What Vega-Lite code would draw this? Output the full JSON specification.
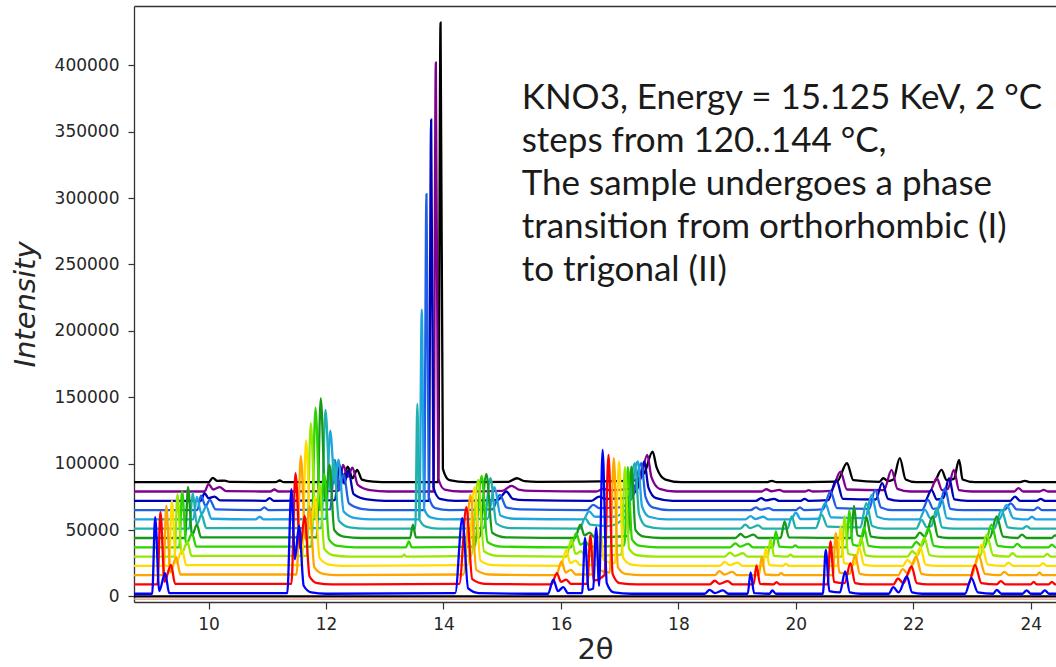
{
  "$schema": "https://vega.github.io/schema/vega-lite/v6.json",
  "width": 922,
  "height": 596,
  "autosize": "none",
  "padding": {"left": 134, "top": 6, "right": 0, "bottom": 65},
  "background": "#ffffff",
  "config": {
    "view": {"stroke": null},
    "font": "DejaVu Sans",
    "axis": {
      "grid": false,
      "labelFont": "DejaVu Sans",
      "labelFontSize": 17,
      "labelColor": "#262626",
      "tickColor": "#333333",
      "tickWidth": 1.2,
      "domainColor": "#333333",
      "domainWidth": 1.3,
      "titleFont": "DejaVu Sans",
      "titleFontSize": 29,
      "titleFontWeight": "normal",
      "titleColor": "#262626"
    }
  },
  "datasets": {
    "base0": [{"x": 8.7, "y": 0}, {"x": 24.5, "y": 0}],
    "base1": [{"x": 8.7, "y": -2000}, {"x": 24.5, "y": -2000}],
    "notes": [
      {"line": "KNO3, Energy = 15.125 KeV, 2 °C", "x": 15.332, "y": 375200},
      {"line": "steps from 120..144 °C,", "x": 15.332, "y": 343200},
      {"line": "The sample undergoes a phase", "x": 15.332, "y": 310860},
      {"line": "transition from orthorhombic (I)", "x": 15.332, "y": 278510},
      {"line": "to trigonal (II)", "x": 15.332, "y": 245790}
    ],
    "traces": [
      {"t":"144","x":8.7,"y":86000},{"t":"144","x":10.0,"y":86000},{"t":"144","x":10.07,"y":89300},{"t":"144","x":10.15,"y":87000},{"t":"144","x":10.27,"y":87200},{"t":"144","x":10.36,"y":86200},{"t":"144","x":11.14,"y":86000},{"t":"144","x":11.21,"y":87300},{"t":"144","x":11.28,"y":86000},{"t":"144","x":12.28,"y":86500},{"t":"144","x":12.37,"y":97800},{"t":"144","x":12.45,"y":89000},{"t":"144","x":12.53,"y":95300},{"t":"144","x":12.61,"y":88000},{"t":"144","x":12.8,"y":86500},{"t":"144","x":13.1,"y":86000},{"t":"144","x":13.91,"y":86000},{"t":"144","x":13.95,"y":432000},{"t":"144","x":13.99,"y":96000},{"t":"144","x":14.1,"y":87500},{"t":"144","x":14.4,"y":86000},{"t":"144","x":15.1,"y":86200},{"t":"144","x":15.25,"y":89000},{"t":"144","x":15.38,"y":86800},{"t":"144","x":15.6,"y":86200},{"t":"144","x":17.2,"y":87000},{"t":"144","x":17.42,"y":93000},{"t":"144","x":17.56,"y":109000},{"t":"144","x":17.63,"y":97000},{"t":"144","x":17.78,"y":88000},{"t":"144","x":18.05,"y":86000},{"t":"144","x":19.5,"y":86000},{"t":"144","x":19.59,"y":87000},{"t":"144","x":19.67,"y":86000},{"t":"144","x":20.7,"y":86500},{"t":"144","x":20.87,"y":100300},{"t":"144","x":20.98,"y":87500},{"t":"144","x":21.42,"y":86200},{"t":"144","x":21.49,"y":89000},{"t":"144","x":21.57,"y":86800},{"t":"144","x":21.66,"y":88000},{"t":"144","x":21.77,"y":104100},{"t":"144","x":21.87,"y":88000},{"t":"144","x":22.05,"y":86000},{"t":"144","x":22.35,"y":86000},{"t":"144","x":22.48,"y":95300},{"t":"144","x":22.57,"y":87500},{"t":"144","x":22.69,"y":88500},{"t":"144","x":22.78,"y":102800},{"t":"144","x":22.84,"y":88000},{"t":"144","x":23.05,"y":86000},{"t":"144","x":23.8,"y":86000},{"t":"144","x":23.9,"y":87000},{"t":"144","x":24.0,"y":86000},{"t":"144","x":24.5,"y":86000},

      {"t":"142","x":8.7,"y":79000},{"t":"142","x":9.93,"y":79000},{"t":"142","x":10.0,"y":84500},{"t":"142","x":10.08,"y":80500},{"t":"142","x":10.19,"y":82300},{"t":"142","x":10.3,"y":79300},{"t":"142","x":11.05,"y":79000},{"t":"142","x":11.12,"y":80500},{"t":"142","x":11.19,"y":79000},{"t":"142","x":12.21,"y":79500},{"t":"142","x":12.29,"y":99000},{"t":"142","x":12.37,"y":90000},{"t":"142","x":12.45,"y":97000},{"t":"142","x":12.54,"y":84000},{"t":"142","x":12.75,"y":80000},{"t":"142","x":13.05,"y":79000},{"t":"142","x":13.83,"y":79000},{"t":"142","x":13.87,"y":402000},{"t":"142","x":13.91,"y":89000},{"t":"142","x":14.02,"y":80500},{"t":"142","x":14.3,"y":79000},{"t":"142","x":15.0,"y":79500},{"t":"142","x":15.16,"y":83300},{"t":"142","x":15.28,"y":80500},{"t":"142","x":15.5,"y":79500},{"t":"142","x":16.6,"y":79000},{"t":"142","x":16.72,"y":81000},{"t":"142","x":16.85,"y":80000},{"t":"142","x":17.15,"y":81000},{"t":"142","x":17.35,"y":88000},{"t":"142","x":17.47,"y":106600},{"t":"142","x":17.54,"y":90000},{"t":"142","x":17.68,"y":81000},{"t":"142","x":17.95,"y":79000},{"t":"142","x":19.41,"y":79000},{"t":"142","x":19.5,"y":80700},{"t":"142","x":19.58,"y":79200},{"t":"142","x":19.72,"y":80300},{"t":"142","x":19.8,"y":79000},{"t":"142","x":20.16,"y":79000},{"t":"142","x":20.22,"y":80000},{"t":"142","x":20.28,"y":79000},{"t":"142","x":20.6,"y":79500},{"t":"142","x":20.76,"y":94000},{"t":"142","x":20.87,"y":80500},{"t":"142","x":21.5,"y":80000},{"t":"142","x":21.63,"y":95300},{"t":"142","x":21.73,"y":81000},{"t":"142","x":21.95,"y":79000},{"t":"142","x":22.28,"y":79000},{"t":"142","x":22.4,"y":89000},{"t":"142","x":22.49,"y":80000},{"t":"142","x":22.59,"y":81000},{"t":"142","x":22.69,"y":95300},{"t":"142","x":22.78,"y":80000},{"t":"142","x":23.0,"y":79000},{"t":"142","x":23.72,"y":79000},{"t":"142","x":23.79,"y":81600},{"t":"142","x":23.87,"y":79000},{"t":"142","x":24.15,"y":79000},{"t":"142","x":24.22,"y":80300},{"t":"142","x":24.29,"y":79000},{"t":"142","x":24.5,"y":79000},

      {"t":"140","x":8.7,"y":72000},{"t":"140","x":9.87,"y":72000},{"t":"140","x":9.93,"y":77800},{"t":"140","x":10.0,"y":74000},{"t":"140","x":10.1,"y":75200},{"t":"140","x":10.2,"y":72300},{"t":"140","x":10.97,"y":72000},{"t":"140","x":11.04,"y":74000},{"t":"140","x":11.11,"y":72000},{"t":"140","x":12.15,"y":72500},{"t":"140","x":12.23,"y":99000},{"t":"140","x":12.31,"y":85000},{"t":"140","x":12.38,"y":95000},{"t":"140","x":12.47,"y":77000},{"t":"140","x":12.7,"y":73000},{"t":"140","x":13.0,"y":72000},{"t":"140","x":13.75,"y":72000},{"t":"140","x":13.79,"y":359000},{"t":"140","x":13.83,"y":82000},{"t":"140","x":13.94,"y":73500},{"t":"140","x":14.2,"y":72000},{"t":"140","x":14.92,"y":72500},{"t":"140","x":15.07,"y":79000},{"t":"140","x":15.18,"y":73500},{"t":"140","x":15.4,"y":72500},{"t":"140","x":16.52,"y":72000},{"t":"140","x":16.65,"y":75200},{"t":"140","x":16.75,"y":73500},{"t":"140","x":17.1,"y":74000},{"t":"140","x":17.3,"y":81000},{"t":"140","x":17.42,"y":101600},{"t":"140","x":17.49,"y":82000},{"t":"140","x":17.62,"y":74000},{"t":"140","x":17.9,"y":72000},{"t":"140","x":19.32,"y":72000},{"t":"140","x":19.41,"y":74000},{"t":"140","x":19.49,"y":72300},{"t":"140","x":19.63,"y":73500},{"t":"140","x":19.71,"y":72000},{"t":"140","x":20.08,"y":72000},{"t":"140","x":20.15,"y":73500},{"t":"140","x":20.22,"y":72000},{"t":"140","x":20.55,"y":72500},{"t":"140","x":20.69,"y":87800},{"t":"140","x":20.8,"y":73500},{"t":"140","x":21.36,"y":73000},{"t":"140","x":21.47,"y":85300},{"t":"140","x":21.57,"y":73500},{"t":"140","x":21.77,"y":72000},{"t":"140","x":22.2,"y":72000},{"t":"140","x":22.31,"y":80300},{"t":"140","x":22.4,"y":73000},{"t":"140","x":22.51,"y":74000},{"t":"140","x":22.61,"y":89000},{"t":"140","x":22.7,"y":73000},{"t":"140","x":22.92,"y":72000},{"t":"140","x":23.65,"y":72000},{"t":"140","x":23.73,"y":75200},{"t":"140","x":23.82,"y":72000},{"t":"140","x":24.1,"y":72000},{"t":"140","x":24.17,"y":73500},{"t":"140","x":24.24,"y":72000},{"t":"140","x":24.5,"y":72000},

      {"t":"138","x":8.7,"y":65000},{"t":"138","x":9.81,"y":65000},{"t":"138","x":9.87,"y":75800},{"t":"138","x":9.95,"y":68000},{"t":"138","x":10.02,"y":72700},{"t":"138","x":10.12,"y":65500},{"t":"138","x":10.88,"y":65000},{"t":"138","x":10.95,"y":67000},{"t":"138","x":11.02,"y":65000},{"t":"138","x":12.07,"y":65500},{"t":"138","x":12.15,"y":102800},{"t":"138","x":12.23,"y":80000},{"t":"138","x":12.3,"y":92000},{"t":"138","x":12.39,"y":70000},{"t":"138","x":12.6,"y":66000},{"t":"138","x":12.9,"y":65000},{"t":"138","x":13.67,"y":65000},{"t":"138","x":13.71,"y":303000},{"t":"138","x":13.75,"y":75000},{"t":"138","x":13.86,"y":66500},{"t":"138","x":14.1,"y":65000},{"t":"138","x":14.83,"y":65500},{"t":"138","x":14.96,"y":76500},{"t":"138","x":15.07,"y":67000},{"t":"138","x":15.3,"y":65500},{"t":"138","x":16.44,"y":65000},{"t":"138","x":16.55,"y":69000},{"t":"138","x":16.65,"y":66500},{"t":"138","x":17.0,"y":67000},{"t":"138","x":17.22,"y":75000},{"t":"138","x":17.37,"y":100300},{"t":"138","x":17.44,"y":75000},{"t":"138","x":17.56,"y":67000},{"t":"138","x":17.85,"y":65000},{"t":"138","x":19.23,"y":65000},{"t":"138","x":19.32,"y":67000},{"t":"138","x":19.4,"y":65300},{"t":"138","x":19.54,"y":66500},{"t":"138","x":19.62,"y":65000},{"t":"138","x":20.0,"y":65000},{"t":"138","x":20.07,"y":67000},{"t":"138","x":20.14,"y":65000},{"t":"138","x":20.46,"y":65500},{"t":"138","x":20.59,"y":79000},{"t":"138","x":20.7,"y":66500},{"t":"138","x":21.25,"y":66000},{"t":"138","x":21.35,"y":80300},{"t":"138","x":21.45,"y":67000},{"t":"138","x":21.65,"y":65000},{"t":"138","x":22.15,"y":65000},{"t":"138","x":22.25,"y":72700},{"t":"138","x":22.34,"y":66000},{"t":"138","x":22.44,"y":67000},{"t":"138","x":22.54,"y":81600},{"t":"138","x":22.63,"y":66000},{"t":"138","x":22.85,"y":65000},{"t":"138","x":23.55,"y":65000},{"t":"138","x":23.66,"y":70000},{"t":"138","x":23.76,"y":65500},{"t":"138","x":24.05,"y":65000},{"t":"138","x":24.12,"y":67000},{"t":"138","x":24.19,"y":65000},{"t":"138","x":24.5,"y":65000},

      {"t":"136","x":8.7,"y":58000},{"t":"136","x":9.74,"y":58000},{"t":"136","x":9.8,"y":75000},{"t":"136","x":9.88,"y":62000},{"t":"136","x":9.96,"y":67700},{"t":"136","x":10.05,"y":58500},{"t":"136","x":10.8,"y":58000},{"t":"136","x":10.87,"y":60000},{"t":"136","x":10.94,"y":58000},{"t":"136","x":12.0,"y":58500},{"t":"136","x":12.07,"y":124900},{"t":"136","x":12.15,"y":85000},{"t":"136","x":12.21,"y":103000},{"t":"136","x":12.3,"y":64000},{"t":"136","x":12.5,"y":59000},{"t":"136","x":12.8,"y":58000},{"t":"136","x":13.59,"y":58000},{"t":"136","x":13.63,"y":216000},{"t":"136","x":13.67,"y":66000},{"t":"136","x":13.78,"y":59500},{"t":"136","x":14.0,"y":58000},{"t":"136","x":14.75,"y":58500},{"t":"136","x":14.87,"y":82300},{"t":"136","x":14.97,"y":61000},{"t":"136","x":15.2,"y":58500},{"t":"136","x":16.38,"y":58000},{"t":"136","x":16.48,"y":64000},{"t":"136","x":16.58,"y":60000},{"t":"136","x":16.9,"y":60000},{"t":"136","x":17.15,"y":68000},{"t":"136","x":17.31,"y":101600},{"t":"136","x":17.38,"y":68000},{"t":"136","x":17.5,"y":60000},{"t":"136","x":17.8,"y":58000},{"t":"136","x":19.14,"y":58000},{"t":"136","x":19.23,"y":60500},{"t":"136","x":19.31,"y":58300},{"t":"136","x":19.45,"y":60000},{"t":"136","x":19.53,"y":58000},{"t":"136","x":19.92,"y":58000},{"t":"136","x":20.0,"y":63000},{"t":"136","x":20.08,"y":58300},{"t":"136","x":20.38,"y":58500},{"t":"136","x":20.5,"y":70300},{"t":"136","x":20.6,"y":59500},{"t":"136","x":21.18,"y":59000},{"t":"136","x":21.29,"y":76500},{"t":"136","x":21.39,"y":60000},{"t":"136","x":21.6,"y":58000},{"t":"136","x":22.1,"y":58000},{"t":"136","x":22.2,"y":65200},{"t":"136","x":22.29,"y":59000},{"t":"136","x":22.38,"y":60000},{"t":"136","x":22.48,"y":74000},{"t":"136","x":22.57,"y":59000},{"t":"136","x":22.78,"y":58000},{"t":"136","x":23.46,"y":58000},{"t":"136","x":23.59,"y":69000},{"t":"136","x":23.7,"y":59000},{"t":"136","x":23.95,"y":58000},{"t":"136","x":24.02,"y":60000},{"t":"136","x":24.09,"y":58000},{"t":"136","x":24.5,"y":58000},

      {"t":"134","x":8.7,"y":51000},{"t":"134","x":9.67,"y":51000},{"t":"134","x":9.73,"y":78000},{"t":"134","x":9.8,"y":54000},{"t":"134","x":9.88,"y":61500},{"t":"134","x":9.96,"y":51500},{"t":"134","x":11.92,"y":51500},{"t":"134","x":11.99,"y":140500},{"t":"134","x":12.07,"y":80000},{"t":"134","x":12.13,"y":103000},{"t":"134","x":12.22,"y":57000},{"t":"134","x":12.4,"y":52000},{"t":"134","x":12.7,"y":51000},{"t":"134","x":13.52,"y":51000},{"t":"134","x":13.555,"y":145000},{"t":"134","x":13.59,"y":58000},{"t":"134","x":13.7,"y":52500},{"t":"134","x":13.9,"y":51000},{"t":"134","x":14.68,"y":51500},{"t":"134","x":14.8,"y":89000},{"t":"134","x":14.9,"y":55000},{"t":"134","x":15.12,"y":51500},{"t":"134","x":16.32,"y":51000},{"t":"134","x":16.41,"y":59000},{"t":"134","x":16.5,"y":54000},{"t":"134","x":16.8,"y":53000},{"t":"134","x":17.1,"y":60000},{"t":"134","x":17.26,"y":100300},{"t":"134","x":17.33,"y":62000},{"t":"134","x":17.45,"y":53000},{"t":"134","x":17.75,"y":51000},{"t":"134","x":19.05,"y":51000},{"t":"134","x":19.14,"y":54000},{"t":"134","x":19.22,"y":51500},{"t":"134","x":19.36,"y":53500},{"t":"134","x":19.44,"y":51000},{"t":"134","x":19.86,"y":51000},{"t":"134","x":19.93,"y":60200},{"t":"134","x":20.0,"y":51500},{"t":"134","x":20.34,"y":51500},{"t":"134","x":20.44,"y":61500},{"t":"134","x":20.54,"y":52500},{"t":"134","x":21.1,"y":52000},{"t":"134","x":21.2,"y":70300},{"t":"134","x":21.3,"y":53000},{"t":"134","x":21.5,"y":51000},{"t":"134","x":22.05,"y":51000},{"t":"134","x":22.14,"y":57700},{"t":"134","x":22.23,"y":52000},{"t":"134","x":22.31,"y":53000},{"t":"134","x":22.4,"y":66500},{"t":"134","x":22.49,"y":52000},{"t":"134","x":22.7,"y":51000},{"t":"134","x":23.38,"y":51000},{"t":"134","x":23.5,"y":65200},{"t":"134","x":23.61,"y":52000},{"t":"134","x":23.86,"y":51000},{"t":"134","x":23.93,"y":53000},{"t":"134","x":24.0,"y":51000},{"t":"134","x":24.5,"y":51000},

      {"t":"132","x":8.7,"y":44000},{"t":"132","x":9.6,"y":44000},{"t":"132","x":9.65,"y":82300},{"t":"132","x":9.72,"y":46000},{"t":"132","x":9.8,"y":54000},{"t":"132","x":9.87,"y":44500},{"t":"132","x":11.84,"y":44500},{"t":"132","x":11.91,"y":149200},{"t":"132","x":11.99,"y":72000},{"t":"132","x":12.06,"y":99000},{"t":"132","x":12.14,"y":50000},{"t":"132","x":12.3,"y":45000},{"t":"132","x":12.6,"y":44000},{"t":"132","x":13.43,"y":44000},{"t":"132","x":13.48,"y":54000},{"t":"132","x":13.53,"y":44500},{"t":"132","x":14.61,"y":44500},{"t":"132","x":14.73,"y":92300},{"t":"132","x":14.83,"y":48000},{"t":"132","x":15.06,"y":44500},{"t":"132","x":16.24,"y":44000},{"t":"132","x":16.33,"y":54000},{"t":"132","x":16.4,"y":46000},{"t":"132","x":16.49,"y":48000},{"t":"132","x":16.57,"y":44500},{"t":"132","x":17.14,"y":45500},{"t":"132","x":17.2,"y":97800},{"t":"132","x":17.27,"y":50000},{"t":"132","x":17.42,"y":45000},{"t":"132","x":17.72,"y":44000},{"t":"132","x":18.97,"y":44000},{"t":"132","x":19.06,"y":47000},{"t":"132","x":19.14,"y":44500},{"t":"132","x":19.28,"y":46500},{"t":"132","x":19.36,"y":44000},{"t":"132","x":19.74,"y":44000},{"t":"132","x":19.81,"y":56400},{"t":"132","x":19.88,"y":44500},{"t":"132","x":20.94,"y":44000},{"t":"132","x":20.99,"y":68200},{"t":"132","x":21.05,"y":46000},{"t":"132","x":21.14,"y":45000},{"t":"132","x":21.2,"y":60000},{"t":"132","x":21.28,"y":45000},{"t":"132","x":21.5,"y":44000},{"t":"132","x":22.03,"y":44000},{"t":"132","x":22.11,"y":48000},{"t":"132","x":22.2,"y":45000},{"t":"132","x":22.33,"y":60200},{"t":"132","x":22.42,"y":45000},{"t":"132","x":22.6,"y":44000},{"t":"132","x":23.3,"y":44000},{"t":"132","x":23.42,"y":60200},{"t":"132","x":23.53,"y":45000},{"t":"132","x":23.78,"y":44000},{"t":"132","x":23.85,"y":46500},{"t":"132","x":23.93,"y":44000},{"t":"132","x":24.36,"y":44000},{"t":"132","x":24.41,"y":46000},{"t":"132","x":24.5,"y":44000},

      {"t":"130","x":8.7,"y":37000},{"t":"130","x":9.5,"y":37000},{"t":"130","x":9.55,"y":79300},{"t":"130","x":9.62,"y":39000},{"t":"130","x":9.72,"y":47500},{"t":"130","x":9.79,"y":37500},{"t":"130","x":11.75,"y":37500},{"t":"130","x":11.82,"y":142000},{"t":"130","x":11.9,"y":65000},{"t":"130","x":11.97,"y":92000},{"t":"130","x":12.05,"y":43000},{"t":"130","x":12.2,"y":38000},{"t":"130","x":12.5,"y":37000},{"t":"130","x":13.36,"y":37000},{"t":"130","x":13.41,"y":41400},{"t":"130","x":13.46,"y":37000},{"t":"130","x":14.53,"y":37500},{"t":"130","x":14.65,"y":90800},{"t":"130","x":14.75,"y":41000},{"t":"130","x":14.98,"y":37500},{"t":"130","x":16.17,"y":37000},{"t":"130","x":16.26,"y":47700},{"t":"130","x":16.33,"y":39000},{"t":"130","x":16.42,"y":41000},{"t":"130","x":16.5,"y":37500},{"t":"130","x":17.08,"y":38500},{"t":"130","x":17.14,"y":97300},{"t":"130","x":17.21,"y":43000},{"t":"130","x":17.35,"y":38000},{"t":"130","x":17.65,"y":37000},{"t":"130","x":18.88,"y":37000},{"t":"130","x":18.97,"y":40000},{"t":"130","x":19.05,"y":37500},{"t":"130","x":19.19,"y":39500},{"t":"130","x":19.27,"y":37000},{"t":"130","x":19.61,"y":37000},{"t":"130","x":19.66,"y":48900},{"t":"130","x":19.72,"y":37500},{"t":"130","x":19.94,"y":37000},{"t":"130","x":19.99,"y":38500},{"t":"130","x":20.04,"y":37000},{"t":"130","x":20.86,"y":37000},{"t":"130","x":20.91,"y":65200},{"t":"130","x":20.97,"y":39000},{"t":"130","x":21.09,"y":38000},{"t":"130","x":21.16,"y":52000},{"t":"130","x":21.24,"y":38000},{"t":"130","x":21.45,"y":37000},{"t":"130","x":21.97,"y":37000},{"t":"130","x":22.05,"y":41000},{"t":"130","x":22.14,"y":38000},{"t":"130","x":22.26,"y":51500},{"t":"130","x":22.35,"y":38000},{"t":"130","x":22.54,"y":37000},{"t":"130","x":23.21,"y":37000},{"t":"130","x":23.33,"y":54000},{"t":"130","x":23.44,"y":38000},{"t":"130","x":23.7,"y":37000},{"t":"130","x":23.77,"y":39500},{"t":"130","x":23.85,"y":37000},{"t":"130","x":24.3,"y":37000},{"t":"130","x":24.36,"y":39000},{"t":"130","x":24.42,"y":37000},{"t":"130","x":24.5,"y":37000},

      {"t":"128","x":8.7,"y":30000},{"t":"128","x":9.42,"y":30000},{"t":"128","x":9.47,"y":77000},{"t":"128","x":9.54,"y":32000},{"t":"128","x":9.64,"y":41000},{"t":"128","x":9.71,"y":30500},{"t":"128","x":11.67,"y":30500},{"t":"128","x":11.74,"y":130400},{"t":"128","x":11.82,"y":58000},{"t":"128","x":11.89,"y":85000},{"t":"128","x":11.97,"y":36000},{"t":"128","x":12.12,"y":31000},{"t":"128","x":12.4,"y":30000},{"t":"128","x":13.29,"y":30000},{"t":"128","x":13.33,"y":31400},{"t":"128","x":13.37,"y":30000},{"t":"128","x":14.47,"y":30500},{"t":"128","x":14.59,"y":87800},{"t":"128","x":14.69,"y":34000},{"t":"128","x":14.92,"y":30500},{"t":"128","x":16.09,"y":30000},{"t":"128","x":16.18,"y":42700},{"t":"128","x":16.25,"y":32000},{"t":"128","x":16.34,"y":34000},{"t":"128","x":16.42,"y":30500},{"t":"128","x":17.03,"y":31500},{"t":"128","x":17.09,"y":97300},{"t":"128","x":17.16,"y":36000},{"t":"128","x":17.3,"y":31000},{"t":"128","x":17.6,"y":30000},{"t":"128","x":18.79,"y":30000},{"t":"128","x":18.88,"y":33000},{"t":"128","x":18.96,"y":30500},{"t":"128","x":19.1,"y":32500},{"t":"128","x":19.18,"y":30000},{"t":"128","x":19.52,"y":30000},{"t":"128","x":19.57,"y":43200},{"t":"128","x":19.63,"y":30500},{"t":"128","x":19.86,"y":30000},{"t":"128","x":19.91,"y":31500},{"t":"128","x":19.96,"y":30000},{"t":"128","x":20.78,"y":30000},{"t":"128","x":20.83,"y":60200},{"t":"128","x":20.89,"y":32000},{"t":"128","x":21.04,"y":31000},{"t":"128","x":21.11,"y":44000},{"t":"128","x":21.19,"y":31000},{"t":"128","x":21.4,"y":30000},{"t":"128","x":21.9,"y":30000},{"t":"128","x":21.98,"y":34000},{"t":"128","x":22.07,"y":31000},{"t":"128","x":22.19,"y":44000},{"t":"128","x":22.28,"y":31000},{"t":"128","x":22.47,"y":30000},{"t":"128","x":23.13,"y":30000},{"t":"128","x":23.25,"y":46400},{"t":"128","x":23.36,"y":31000},{"t":"128","x":23.62,"y":30000},{"t":"128","x":23.69,"y":32500},{"t":"128","x":23.77,"y":30000},{"t":"128","x":24.22,"y":30000},{"t":"128","x":24.28,"y":32000},{"t":"128","x":24.34,"y":30000},{"t":"128","x":24.5,"y":30000},

      {"t":"126","x":8.7,"y":23000},{"t":"126","x":9.325,"y":23000},{"t":"126","x":9.375,"y":72200},{"t":"126","x":9.445,"y":25000},{"t":"126","x":9.55,"y":35000},{"t":"126","x":9.62,"y":23500},{"t":"126","x":11.59,"y":23500},{"t":"126","x":11.66,"y":117400},{"t":"126","x":11.74,"y":50000},{"t":"126","x":11.81,"y":75000},{"t":"126","x":11.89,"y":29000},{"t":"126","x":12.05,"y":24000},{"t":"126","x":12.3,"y":23000},{"t":"126","x":14.41,"y":23500},{"t":"126","x":14.53,"y":82300},{"t":"126","x":14.63,"y":27000},{"t":"126","x":14.85,"y":23500},{"t":"126","x":16.0,"y":23000},{"t":"126","x":16.09,"y":35000},{"t":"126","x":16.16,"y":25000},{"t":"126","x":16.25,"y":27000},{"t":"126","x":16.33,"y":23500},{"t":"126","x":16.62,"y":23500},{"t":"126","x":16.67,"y":51000},{"t":"126","x":16.73,"y":27000},{"t":"126","x":16.92,"y":25000},{"t":"126","x":16.99,"y":101600},{"t":"126","x":17.06,"y":29000},{"t":"126","x":17.2,"y":24000},{"t":"126","x":17.5,"y":23000},{"t":"126","x":18.7,"y":23000},{"t":"126","x":18.79,"y":26000},{"t":"126","x":18.87,"y":23500},{"t":"126","x":19.01,"y":25500},{"t":"126","x":19.09,"y":23000},{"t":"126","x":19.44,"y":23000},{"t":"126","x":19.49,"y":36400},{"t":"126","x":19.55,"y":23500},{"t":"126","x":19.78,"y":23000},{"t":"126","x":19.83,"y":24500},{"t":"126","x":19.88,"y":23000},{"t":"126","x":20.71,"y":23000},{"t":"126","x":20.76,"y":52700},{"t":"126","x":20.82,"y":25000},{"t":"126","x":21.0,"y":24000},{"t":"126","x":21.08,"y":37000},{"t":"126","x":21.16,"y":24000},{"t":"126","x":21.35,"y":23000},{"t":"126","x":21.82,"y":23000},{"t":"126","x":21.9,"y":27500},{"t":"126","x":21.99,"y":24000},{"t":"126","x":22.12,"y":37000},{"t":"126","x":22.21,"y":24000},{"t":"126","x":22.4,"y":23000},{"t":"126","x":23.05,"y":23000},{"t":"126","x":23.16,"y":38900},{"t":"126","x":23.27,"y":24000},{"t":"126","x":23.55,"y":23000},{"t":"126","x":23.62,"y":25500},{"t":"126","x":23.7,"y":23000},{"t":"126","x":24.15,"y":23000},{"t":"126","x":24.21,"y":25000},{"t":"126","x":24.27,"y":23000},{"t":"126","x":24.5,"y":23000},

      {"t":"124","x":8.7,"y":16000},{"t":"124","x":9.23,"y":16000},{"t":"124","x":9.28,"y":68200},{"t":"124","x":9.35,"y":18000},{"t":"124","x":9.45,"y":29600},{"t":"124","x":9.52,"y":16500},{"t":"124","x":11.5,"y":16500},{"t":"124","x":11.57,"y":105800},{"t":"124","x":11.65,"y":43000},{"t":"124","x":11.72,"y":67700},{"t":"124","x":11.8,"y":22000},{"t":"124","x":11.95,"y":17000},{"t":"124","x":12.2,"y":16000},{"t":"124","x":14.34,"y":16500},{"t":"124","x":14.46,"y":76500},{"t":"124","x":14.56,"y":20000},{"t":"124","x":14.78,"y":16500},{"t":"124","x":15.92,"y":16000},{"t":"124","x":16.01,"y":26300},{"t":"124","x":16.08,"y":18000},{"t":"124","x":16.17,"y":20000},{"t":"124","x":16.25,"y":16500},{"t":"124","x":16.54,"y":16500},{"t":"124","x":16.59,"y":48000},{"t":"124","x":16.65,"y":20000},{"t":"124","x":16.83,"y":18000},{"t":"124","x":16.9,"y":104100},{"t":"124","x":16.97,"y":22000},{"t":"124","x":17.1,"y":17000},{"t":"124","x":17.4,"y":16000},{"t":"124","x":18.62,"y":16000},{"t":"124","x":18.7,"y":19000},{"t":"124","x":18.78,"y":16500},{"t":"124","x":18.92,"y":18500},{"t":"124","x":19.0,"y":16000},{"t":"124","x":19.37,"y":16000},{"t":"124","x":19.42,"y":30000},{"t":"124","x":19.48,"y":16500},{"t":"124","x":19.7,"y":16000},{"t":"124","x":19.75,"y":17500},{"t":"124","x":19.8,"y":16000},{"t":"124","x":20.63,"y":16000},{"t":"124","x":20.68,"y":47700},{"t":"124","x":20.74,"y":18000},{"t":"124","x":20.92,"y":17000},{"t":"124","x":21.01,"y":31000},{"t":"124","x":21.09,"y":17000},{"t":"124","x":21.28,"y":16000},{"t":"124","x":21.74,"y":16000},{"t":"124","x":21.82,"y":20500},{"t":"124","x":21.91,"y":17000},{"t":"124","x":22.05,"y":30000},{"t":"124","x":22.14,"y":17000},{"t":"124","x":22.33,"y":16000},{"t":"124","x":23.0,"y":16000},{"t":"124","x":23.11,"y":31400},{"t":"124","x":23.22,"y":17000},{"t":"124","x":23.48,"y":16000},{"t":"124","x":23.55,"y":18500},{"t":"124","x":23.63,"y":16000},{"t":"124","x":24.1,"y":16000},{"t":"124","x":24.15,"y":18000},{"t":"124","x":24.2,"y":16000},{"t":"124","x":24.5,"y":16000},

      {"t":"122","x":8.7,"y":9000},{"t":"122","x":9.13,"y":9000},{"t":"122","x":9.18,"y":63700},{"t":"122","x":9.25,"y":11000},{"t":"122","x":9.36,"y":23800},{"t":"122","x":9.43,"y":9500},{"t":"122","x":11.41,"y":9500},{"t":"122","x":11.48,"y":92800},{"t":"122","x":11.56,"y":36000},{"t":"122","x":11.635,"y":60700},{"t":"122","x":11.72,"y":15000},{"t":"122","x":11.85,"y":10000},{"t":"122","x":12.1,"y":9000},{"t":"122","x":14.27,"y":9500},{"t":"122","x":14.39,"y":67200},{"t":"122","x":14.49,"y":13000},{"t":"122","x":14.7,"y":9500},{"t":"122","x":15.84,"y":9000},{"t":"122","x":15.93,"y":17600},{"t":"122","x":16.0,"y":11000},{"t":"122","x":16.09,"y":12600},{"t":"122","x":16.17,"y":9500},{"t":"122","x":16.45,"y":9500},{"t":"122","x":16.5,"y":46000},{"t":"122","x":16.56,"y":12000},{"t":"122","x":16.74,"y":16000},{"t":"122","x":16.81,"y":106600},{"t":"122","x":16.88,"y":17000},{"t":"122","x":17.0,"y":10000},{"t":"122","x":17.3,"y":9000},{"t":"122","x":18.53,"y":9000},{"t":"122","x":18.62,"y":11800},{"t":"122","x":18.7,"y":9500},{"t":"122","x":18.84,"y":11500},{"t":"122","x":18.93,"y":9000},{"t":"122","x":19.28,"y":9000},{"t":"122","x":19.33,"y":23300},{"t":"122","x":19.39,"y":9500},{"t":"122","x":19.62,"y":9000},{"t":"122","x":19.67,"y":10800},{"t":"122","x":19.73,"y":9000},{"t":"122","x":20.54,"y":9000},{"t":"122","x":20.59,"y":41400},{"t":"122","x":20.65,"y":11000},{"t":"122","x":20.83,"y":10000},{"t":"122","x":20.93,"y":25100},{"t":"122","x":21.01,"y":10000},{"t":"122","x":21.2,"y":9000},{"t":"122","x":21.66,"y":9000},{"t":"122","x":21.74,"y":13500},{"t":"122","x":21.83,"y":10000},{"t":"122","x":21.97,"y":22600},{"t":"122","x":22.06,"y":10000},{"t":"122","x":22.25,"y":9000},{"t":"122","x":22.94,"y":9000},{"t":"122","x":23.05,"y":23800},{"t":"122","x":23.16,"y":10000},{"t":"122","x":23.42,"y":9000},{"t":"122","x":23.49,"y":11500},{"t":"122","x":23.57,"y":9000},{"t":"122","x":24.0,"y":9000},{"t":"122","x":24.05,"y":11000},{"t":"122","x":24.1,"y":9000},{"t":"122","x":24.3,"y":9000},{"t":"122","x":24.36,"y":11000},{"t":"122","x":24.42,"y":9000},{"t":"122","x":24.5,"y":9000},

      {"t":"120","x":8.7,"y":2000},{"t":"120","x":9.04,"y":2000},{"t":"120","x":9.09,"y":59700},{"t":"120","x":9.16,"y":4000},{"t":"120","x":9.26,"y":17600},{"t":"120","x":9.33,"y":2500},{"t":"120","x":11.34,"y":2500},{"t":"120","x":11.41,"y":80800},{"t":"120","x":11.47,"y":28000},{"t":"120","x":11.54,"y":53200},{"t":"120","x":11.62,"y":8000},{"t":"120","x":11.75,"y":3000},{"t":"120","x":12.0,"y":2000},{"t":"120","x":14.2,"y":2500},{"t":"120","x":14.32,"y":59000},{"t":"120","x":14.42,"y":6000},{"t":"120","x":14.6,"y":2500},{"t":"120","x":15.78,"y":2000},{"t":"120","x":15.87,"y":12600},{"t":"120","x":15.95,"y":4000},{"t":"120","x":16.04,"y":7000},{"t":"120","x":16.12,"y":2500},{"t":"120","x":16.36,"y":2500},{"t":"120","x":16.41,"y":44000},{"t":"120","x":16.47,"y":5000},{"t":"120","x":16.55,"y":6000},{"t":"120","x":16.6,"y":52000},{"t":"120","x":16.65,"y":8000},{"t":"120","x":16.71,"y":110400},{"t":"120","x":16.78,"y":10000},{"t":"120","x":16.9,"y":3000},{"t":"120","x":17.2,"y":2000},{"t":"120","x":18.45,"y":2000},{"t":"120","x":18.53,"y":5000},{"t":"120","x":18.62,"y":2500},{"t":"120","x":18.76,"y":4500},{"t":"120","x":18.85,"y":2000},{"t":"120","x":19.18,"y":2000},{"t":"120","x":19.23,"y":18000},{"t":"120","x":19.29,"y":2500},{"t":"120","x":19.55,"y":2000},{"t":"120","x":19.6,"y":4500},{"t":"120","x":19.66,"y":2000},{"t":"120","x":20.46,"y":2000},{"t":"120","x":20.51,"y":35100},{"t":"120","x":20.57,"y":4000},{"t":"120","x":20.75,"y":3000},{"t":"120","x":20.84,"y":18800},{"t":"120","x":20.92,"y":3000},{"t":"120","x":21.1,"y":2000},{"t":"120","x":21.58,"y":2000},{"t":"120","x":21.66,"y":7000},{"t":"120","x":21.75,"y":3000},{"t":"120","x":21.89,"y":15000},{"t":"120","x":21.98,"y":3000},{"t":"120","x":22.15,"y":2000},{"t":"120","x":22.88,"y":2000},{"t":"120","x":22.99,"y":13800},{"t":"120","x":23.1,"y":3000},{"t":"120","x":23.36,"y":2000},{"t":"120","x":23.42,"y":5000},{"t":"120","x":23.5,"y":2000},{"t":"120","x":23.86,"y":2000},{"t":"120","x":23.93,"y":4500},{"t":"120","x":24.0,"y":2000},{"t":"120","x":24.17,"y":2000},{"t":"120","x":24.24,"y":4500},{"t":"120","x":24.31,"y":2000},{"t":"120","x":24.5,"y":2000}
    ]
  },
  "resolve": {"axis": {"x": "independent", "y": "independent"}},
  "layer": [
    {
      "data": {"name": "base1"},
      "mark": {"type": "line", "color": "#e9967a", "strokeWidth": 1.3, "clip": true},
      "encoding": {
        "x": {"field": "x", "type": "quantitative", "scale": {"domain": [8.73, 24.43], "nice": false, "zero": false}, "axis": null},
        "y": {"field": "y", "type": "quantitative", "scale": {"domain": [-4200, 444600], "nice": false, "zero": false}, "axis": null}
      }
    },
    {
      "data": {"name": "base0"},
      "mark": {"type": "line", "color": "#000000", "strokeWidth": 2.3, "clip": true},
      "encoding": {
        "x": {"field": "x", "type": "quantitative", "axis": null},
        "y": {"field": "y", "type": "quantitative", "axis": null}
      }
    },
    {
      "data": {"name": "traces"},
      "mark": {"type": "line", "strokeWidth": 2.3, "interpolate": "monotone", "clip": true},
      "encoding": {
        "x": {
          "field": "x", "type": "quantitative",
          "axis": {"values": [10, 12, 14, 16, 18, 20, 22, 24], "format": "d", "title": "2θ", "tickSize": 7, "labelPadding": 7, "titlePadding": 3, "domain": true}
        },
        "y": {
          "field": "y", "type": "quantitative",
          "axis": {"values": [0, 50000, 100000, 150000, 200000, 250000, 300000, 350000, 400000], "format": "d", "title": "Intensity", "titleFontStyle": "italic", "tickSize": 6, "labelPadding": 9, "titlePadding": 14, "domain": true}
        },
        "color": {
          "field": "t", "type": "nominal", "legend": null,
          "scale": {
            "domain": ["144", "142", "140", "138", "136", "134", "132", "130", "128", "126", "124", "122", "120"],
            "range": ["#000000", "#800090", "#0000b4", "#1f5fe6", "#1ea5e0", "#20b2aa", "#169a16", "#2cd400", "#99e800", "#ffdd00", "#ffa500", "#ff0000", "#0000ff"]
          }
        }
      }
    },
    {
      "data": {"name": "notes"},
      "mark": {"type": "text", "align": "left", "baseline": "middle", "font": "Lato", "fontSize": 35, "color": "#1a1a1a"},
      "encoding": {
        "x": {"field": "x", "type": "quantitative", "axis": {"orient": "top", "labels": false, "ticks": false, "domain": true, "title": null}},
        "y": {"field": "y", "type": "quantitative", "axis": null},
        "text": {"field": "line"}
      }
    }
  ]
}
